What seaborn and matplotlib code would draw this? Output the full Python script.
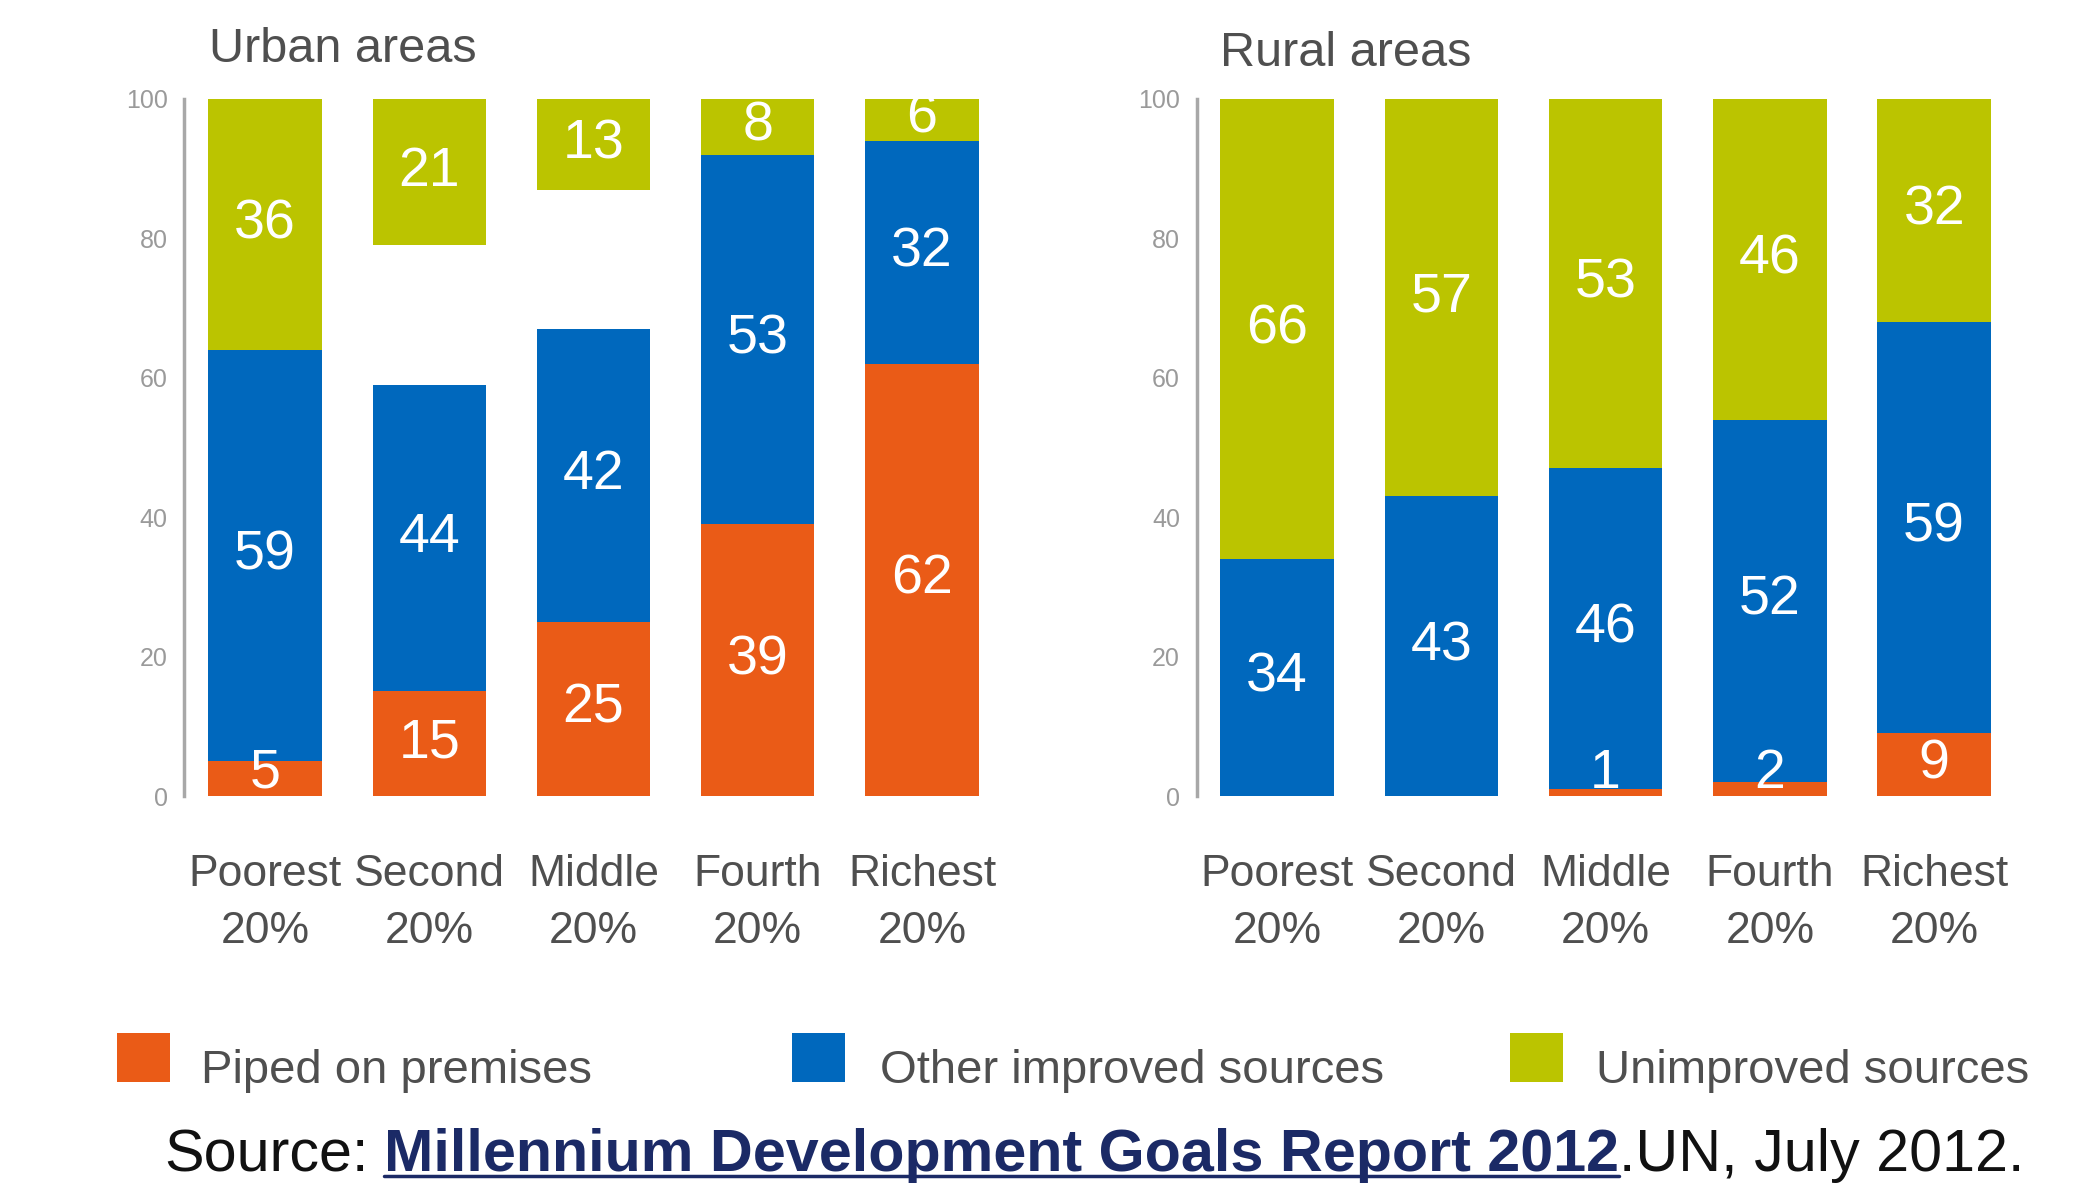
import matplotlib
matplotlib.use("Agg")
import matplotlib.pyplot as plt
from matplotlib.patches import Rectangle
from matplotlib.lines import Line2D
import numpy as np
import pandas as pd
import seaborn as sns

# ---- data -------------------------------------------------------------
quintiles = ["Poorest", "Second", "Middle", "Fourth", "Richest"]
quintile_share = "20%"
series_names = ["Piped on premises", "Other improved sources", "Unimproved sources"]

urban_piped = [5, 15, 25, 39, 62]
urban_other = [59, 44, 42, 53, 32]
urban_unimproved = [36, 21, 13, 8, 6]

rural_piped = [0, 0, 1, 2, 9]
rural_other = [34, 43, 46, 52, 59]
rural_unimproved = [66, 57, 53, 46, 32]

y_ticks = [0, 20, 40, 60, 80, 100]
panel_titles = ["Urban areas", "Rural areas"]

source_prefix = "Source:"
source_title = "Millennium Development Goals Report 2012"
source_suffix = ".UN, July 2012."

# ---- style ------------------------------------------------------------
sns.set_style("white")
SANS = ["Liberation Sans", "DejaVu Sans"]
plt.rcParams["font.family"] = SANS

ORANGE = "#EA5B17"
BLUE = "#0068BD"
GREEN = "#BBC400"
COLORS = [ORANGE, BLUE, GREEN]
TEXT_GREY = "#4f4f4f"
TICK_GREY = "#9a9a9a"

W, H = 2077, 1187
fig = plt.figure(figsize=(W / 100, H / 100), dpi=100)
fig.patch.set_facecolor("white")

BAR_W = 0.69
XLIM = (-0.49, 4.36)
ax_urban = fig.add_axes([0.0888, 0.3294, 0.3836, 0.5872])
ax_rural = fig.add_axes([0.5761, 0.3294, 0.3836, 0.5872])


def draw_panel(ax, piped, other, unimproved):
    df = pd.DataFrame({"quintile": quintiles, "piped": piped,
                       "other": other, "unimproved": unimproved})
    piped_a = np.asarray(piped, dtype=float)
    unimp_a = np.asarray(unimproved, dtype=float)
    common = dict(data=df, x="quintile", order=quintiles, width=BAR_W,
                  saturation=1, linewidth=0, ax=ax, errorbar=None)
    # piped water stacks up from zero, other improved sources on top of it,
    # unimproved sources hang from the 100 % line
    sns.barplot(y="piped", color=ORANGE, **common)
    sns.barplot(y="other", color=BLUE, bottom=piped_a, **common)
    sns.barplot(y="unimproved", color=GREEN, bottom=100 - unimp_a, **common)

    for container, values in zip(ax.containers, (piped, other, unimproved)):
        for bar, v in zip(container.patches, values):
            if v == 0:
                continue
            x = bar.get_x() + bar.get_width() / 2
            y = bar.get_y() + bar.get_height() / 2
            y = max(y, bar.get_y() + 3.2)
            ax.text(x, y, f"{v}", ha="center", va="center", color="white",
                    fontsize=40, zorder=5)

    ax.set_xlim(*XLIM)
    ax.set_ylim(0, 100)
    ax.set_yticks(y_ticks)
    ax.set_yticklabels([str(t) for t in y_ticks], color=TICK_GREY, fontsize=18)
    ax.set_xticks(range(len(quintiles)))
    ax.set_xticklabels([f"{q}\n{quintile_share}" for q in quintiles],
                       color=TEXT_GREY, fontsize=32, linespacing=1.5)
    ax.tick_params(axis="y", length=0, pad=12)
    ax.tick_params(axis="x", length=0, pad=42)
    ax.set_xlabel("")
    ax.set_ylabel("")
    for side in ("top", "right", "bottom"):
        ax.spines[side].set_visible(False)
    ax.spines["left"].set_color("#a8a8a8")
    ax.spines["left"].set_linewidth(2.5)
    ax.grid(False)


draw_panel(ax_urban, urban_piped, urban_other, urban_unimproved)
draw_panel(ax_rural, rural_piped, rural_other, rural_unimproved)

# panel titles
fig.text(209 / W, 1 - 49 / H, panel_titles[0], ha="left", va="center",
         fontsize=35, color=TEXT_GREY)
fig.text(1220 / W, 1 - 53 / H, panel_titles[1], ha="left", va="center",
         fontsize=35, color=TEXT_GREY)

# legend: coloured squares with their labels
legend_swatch_x = [117, 792, 1510]
legend_text_x = [201, 880, 1596]
for name, col, sx, tx in zip(series_names, COLORS, legend_swatch_x, legend_text_x):
    fig.patches.append(Rectangle((sx / W, 1 - 1082 / H), 53 / W, 49 / H,
                                 transform=fig.transFigure, facecolor=col,
                                 edgecolor="none"))
    fig.text(tx / W, 1 - 1083 / H, name, ha="left", va="baseline",
             fontsize=34, color=TEXT_GREY)

# source line with the report title emphasised
renderer = fig.canvas.get_renderer()
base_y = 1 - 1171 / H
t1 = fig.text(164 / W, base_y, source_prefix, ha="left", va="baseline",
              fontsize=42.7, color="#111111")
x1 = t1.get_window_extent(renderer).x1 + 16
t2 = fig.text(x1 / W, base_y, source_title, ha="left", va="baseline",
              fontsize=42.7, color="#1b2a66", fontweight="bold")
ext2 = t2.get_window_extent(renderer)
fig.add_artist(Line2D([ext2.x0 / W, ext2.x1 / W],
                      [base_y - 5 / H, base_y - 5 / H],
                      transform=fig.transFigure, color="#1b2a66", lw=2.5))
fig.text(ext2.x1 / W, base_y, source_suffix, ha="left", va="baseline",
         fontsize=42.7, color="#111111")

fig.savefig("out.png", dpi=100, facecolor="white")
